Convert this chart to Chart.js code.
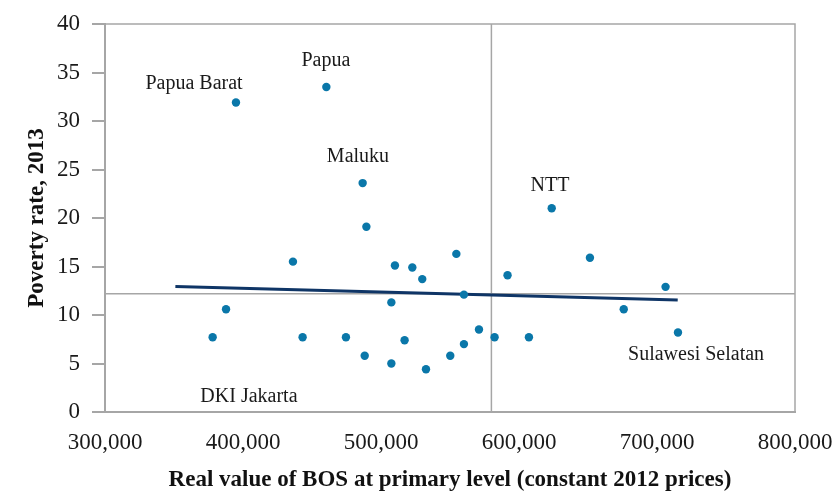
<!DOCTYPE html>
<html><head><meta charset="utf-8">
<script src="https://cdn.jsdelivr.net/npm/chart.js@4/dist/chart.umd.min.js"></script>
<style>html,body{margin:0;padding:0;background:#fff}</style>
</head><body>
<canvas id="c" width="833" height="494"></canvas>
<script>
// Real value of BOS at primary level (constant 2012 prices), per province
const bosValues = [394900, 460400, 486700, 489400, 623700, 436200, 387700, 378000, 443200, 474600,
  488200, 507500, 507500, 510100, 517100, 522700, 529900, 554600, 560100, 532600,
  550200, 560100, 571000, 582300, 591700, 607200, 651400, 675900, 706200, 715200];
// Poverty rate, 2013 (%)
const povertyRates = [31.9, 33.5, 23.6, 19.1, 21.0, 15.5, 10.6, 7.7, 7.7, 7.7,
  5.8, 5.0, 11.3, 15.1, 7.4, 14.9, 13.7, 16.3, 12.1, 4.4,
  5.8, 7.0, 8.5, 7.7, 14.1, 7.7, 15.9, 10.6, 12.9, 8.2];
// Linear trend endpoints
const trendX = [351000, 715000];
const trendY = [12.95, 11.55];
// Reference (mean) lines
const meanBos = 580000;
const meanPoverty = 12.2;
// Axis ticks
const xTicks = [300000, 400000, 500000, 600000, 700000, 800000];
const yTicks = [0, 5, 10, 15, 20, 25, 30, 35, 40];
// Province annotations (text and anchor in data units)
const noteTexts = ['Papua Barat', 'Papua', 'Maluku', 'NTT', 'Sulawesi Selatan', 'DKI Jakarta'];
const noteX = [364500, 460100, 483300, 622500, 728300, 404300];
const noteY = [33.3, 35.7, 25.8, 22.8, 5.4, 1.0];

const SERIF = "'Liberation Serif', 'DejaVu Serif', serif";
const GREY = '#a6a6a6';

const notesPlugin = {
  id: 'notes',
  afterDatasetsDraw(chart) {
    const {ctx, scales: {x, y}, chartArea} = chart;
    ctx.save();
    // top & right frame
    ctx.strokeStyle = GREY;
    ctx.lineWidth = 1.5;
    ctx.beginPath();
    ctx.moveTo(chartArea.left, chartArea.top);
    ctx.lineTo(chartArea.right, chartArea.top);
    ctx.lineTo(chartArea.right, chartArea.bottom);
    ctx.stroke();
    ctx.fillStyle = '#1a1a1a';
    ctx.font = '20px ' + SERIF;
    ctx.textAlign = 'center';
    ctx.textBaseline = 'alphabetic';
    noteTexts.forEach((t, i) => {
      ctx.fillText(t, x.getPixelForValue(noteX[i]), y.getPixelForValue(noteY[i]));
    });
    ctx.restore();
  }
};

new Chart(document.getElementById('c'), {
  type: 'scatter',
  data: {
    datasets: [
      {
        label: 'Provinces',
        data: bosValues.map((v, i) => ({x: v, y: povertyRates[i]})),
        backgroundColor: '#0a77a9',
        borderWidth: 0,
        pointRadius: 4.2,
        order: 0
      },
      {
        type: 'line',
        label: 'Trend',
        data: trendX.map((v, i) => ({x: v, y: trendY[i]})),
        borderColor: '#0f3566',
        borderWidth: 3,
        pointRadius: 0,
        fill: false,
        order: 1
      },
      {
        type: 'line',
        label: 'Mean BOS',
        data: [{x: meanBos, y: yTicks[0]}, {x: meanBos, y: yTicks[yTicks.length - 1]}],
        borderColor: GREY,
        borderWidth: 1.5,
        pointRadius: 0,
        fill: false,
        order: 2
      },
      {
        type: 'line',
        label: 'Mean poverty',
        data: [{x: xTicks[0], y: meanPoverty}, {x: xTicks[xTicks.length - 1], y: meanPoverty}],
        borderColor: GREY,
        borderWidth: 1.5,
        pointRadius: 0,
        fill: false,
        order: 2
      }
    ]
  },
  options: {
    responsive: false,
    animation: false,
    events: [],
    layout: {padding: {top: 24, right: 38, left: 0, bottom: 0}},
    plugins: {legend: {display: false}, tooltip: {enabled: false}},
    scales: {
      x: {
        type: 'linear',
        min: xTicks[0], max: xTicks[xTicks.length - 1],
        afterBuildTicks: s => { s.ticks = xTicks.map(v => ({value: v})); },
        afterFit: s => { s.height = 82; s.paddingLeft = 0; s.paddingRight = 0; },
        grid: {display: false, drawTicks: false},
        border: {display: true, color: GREY, width: 2},
        ticks: {
          padding: 17,
          color: '#1a1a1a',
          font: {family: SERIF, size: 23},
          maxRotation: 0,
          callback: v => Number(v).toLocaleString('en-US')
        },
        title: {
          display: true,
          text: 'Real value of BOS at primary level (constant 2012 prices)',
          color: '#111',
          font: {family: SERIF, size: 23, weight: 'bold'},
          padding: {top: 0, bottom: 0}
        }
      },
      y: {
        type: 'linear',
        min: yTicks[0], max: yTicks[yTicks.length - 1],
        afterBuildTicks: s => { s.ticks = yTicks.map(v => ({value: v})); },
        afterFit: s => { s.width = 105; s.paddingTop = 0; s.paddingBottom = 0; },
        grid: {drawOnChartArea: false, drawTicks: true, tickLength: 13, color: GREY, lineWidth: 2},
        border: {display: true, color: GREY, width: 2},
        ticks: {
          padding: 12,
          color: '#1a1a1a',
          font: {family: SERIF, size: 23}
        },
        title: {
          display: true,
          text: 'Poverty rate, 2013',
          color: '#111',
          font: {family: SERIF, size: 23, weight: 'bold'},
          padding: {top: 23, bottom: 0}
        }
      }
    }
  },
  plugins: [notesPlugin]
});
</script>
</body></html>
